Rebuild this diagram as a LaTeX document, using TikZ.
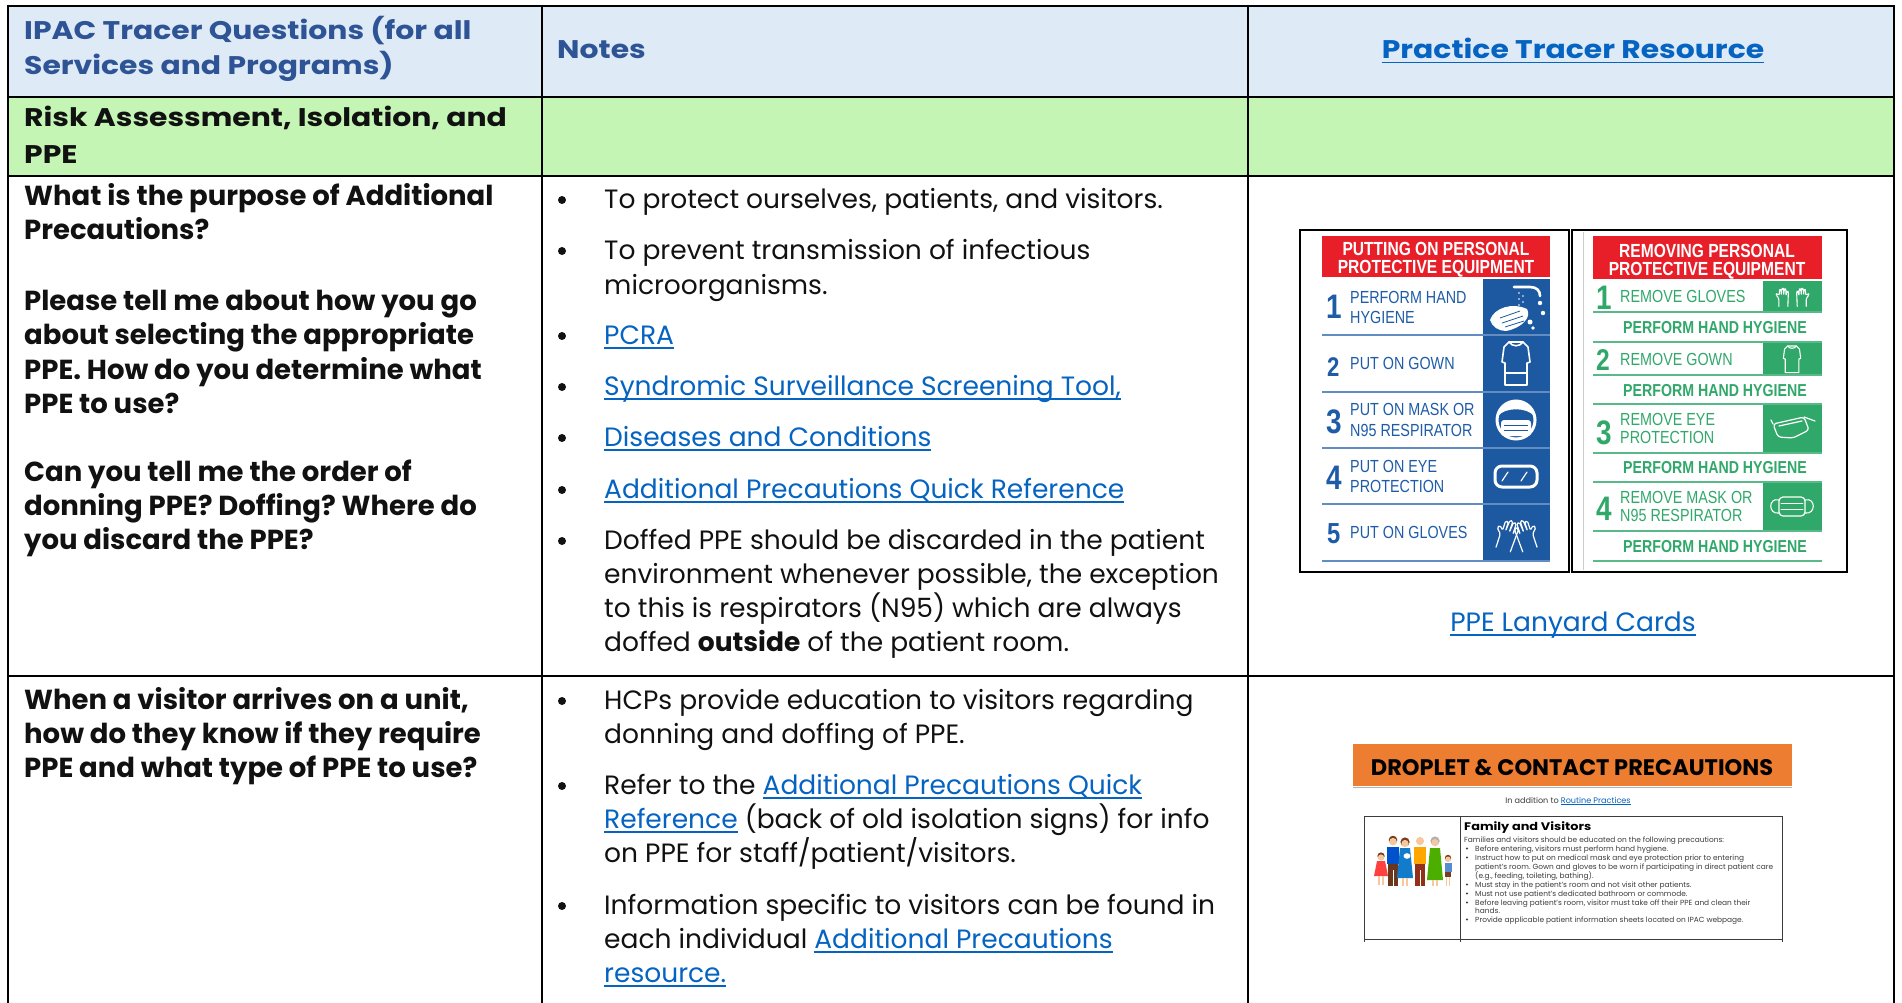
\documentclass[tikz,border=0pt]{standalone}
\usepackage{fontspec}
\setmainfont{Poppins}
\newfontfamily\hdfont[FakeStretch=1.17]{Poppins}
\newfontfamily\cardfont[FakeStretch=0.82]{Liberation Sans}
\newcommand\fsz[1]{\fontsize{#1}{#1}\selectfont}
\newlength\lkw
\definecolor{hdrblue}{RGB}{46,84,150}
\definecolor{hdrfill}{RGB}{222,234,246}
\definecolor{grnfill}{RGB}{197,245,181}
\definecolor{linkblue}{RGB}{5,99,193}
\definecolor{txt}{RGB}{17,17,17}
\definecolor{cblue}{RGB}{28,89,160}
\definecolor{ctblue}{RGB}{30,92,168}
\definecolor{cred}{RGB}{232,30,40}
\definecolor{cgreen}{RGB}{48,168,106}
\definecolor{corange}{RGB}{237,125,49}
\definecolor{dgray}{RGB}{60,60,60}
\definecolor{skin}{RGB}{247,200,160}
\definecolor{hairb}{RGB}{120,60,30}
\newcommand\lnk[1]{\settowidth\lkw{#1}\textcolor{linkblue}{\rlap{\rule[-0.17em]{\lkw}{0.065em}}#1}}
\frenchspacing
\begin{document}
\frenchspacing
\begin{tikzpicture}[x=1pt,y=-1pt,
 hdr/.style={font=\hdfont\bfseries\fsz{25.5}, text=hdrblue, anchor=base west, inner sep=0pt},
 sec/.style={font=\hdfont\bfseries\fsz{25.5}, text=txt, anchor=base west, inner sep=0pt},
 qt/.style={font=\bfseries\fsz{27.5}, text=txt, anchor=base west, inner sep=0pt},
 nt/.style={font=\fsz{26.5}, text=txt, anchor=base west, inner sep=0pt},
 blt/.style={circle, fill=txt, inner sep=0pt, minimum size=8pt},
 tline/.style={line width=2.6pt, black},
 crdhd/.style={font=\cardfont\bfseries\fsz{19}, text=white, anchor=base, inner sep=0pt},
 crdtx/.style={font=\cardfont\fsz{17.5}, anchor=base west, inner sep=0pt},
 crdnum/.style={font=\cardfont\bfseries\fsz{34}, anchor=base west, inner sep=0pt},
 phh/.style={font=\cardfont\bfseries\fsz{17.3}, text=cgreen, anchor=base, inner sep=0pt},
 icn/.style={white, line width=1.6pt, line join=round, line cap=round},
 smtx/.style={font=\fsz{7.4}, text=dgray, anchor=base west, inner sep=0pt},
 tbul/.style={circle, fill=dgray, inner sep=0pt, minimum size=2.2pt}]
\useasboundingbox (0,0) rectangle (1902,1003);
\fill[white] (0,0) rectangle (1902,1003);
% ---------- table fills ----------
\fill[hdrfill] (8,6) rectangle (1894,97);
\fill[grnfill] (8,97) rectangle (1894,176);
% ---------- table rules ----------
\draw[tline] (8,6) -- (1894,6);
\draw[tline] (8,97) -- (1894,97);
\draw[tline] (8,176) -- (1894,176);
\draw[tline] (8,676) -- (1894,676);
\draw[tline] (8,5) -- (8,1003);
\draw[tline] (542,5) -- (542,1003);
\draw[tline] (1248,5) -- (1248,1003);
\draw[tline] (1894,5) -- (1894,1003);
% ---------- header ----------
\node[hdr] (h1a) at (24,40) {IPAC Tracer Questions (for all};
\node[hdr] (h1b) at (24,75) {Services and Programs)};
\node[hdr] (h2) at (557,59) {Notes};
\node[hdr, anchor=base] (h3) at (1573,59) {\lnk{Practice Tracer Resource}};
\node[sec] (s1a) at (24,127) {Risk Assessment, Isolation, and};
\node[sec] (s1b) at (24,164) {PPE};
% ---------- row 3, column 1 ----------
\node[qt] (qa1) at (24,205) {What is the purpose of Additional};
\node[qt] (qa2) at (24,239) {Precautions?};
\node[qt] (qb1) at (24,310) {Please tell me about how you go};
\node[qt] (qb2) at (24,344) {about selecting the appropriate};
\node[qt] (qb3) at (24,379) {PPE. How do you determine what};
\node[qt] (qb4) at (24,413) {PPE to use?};
\node[qt] (qc1) at (24,481) {Can you tell me the order of};
\node[qt] (qc2) at (24,515) {donning PPE? Doffing? Where do};
\node[qt] (qc3) at (24,549) {you discard the PPE?};
% ---------- row 3, column 2 ----------
\node[blt] (b1) at (562,200) {};
\node[blt] (b2) at (562,251) {};
\node[blt] (b3) at (562,336) {};
\node[blt] (b4) at (562,387) {};
\node[blt] (b5) at (562,438) {};
\node[blt] (b6) at (562,490) {};
\node[blt] (b7) at (562,541) {};
\node[nt] (n1) at (604,208) {To protect ourselves, patients, and visitors.};
\node[nt] (n2a) at (604,259) {To prevent transmission of infectious};
\node[nt] (n2b) at (604,294) {microorganisms.};
\node[nt] (n3) at (604,344) {\lnk{PCRA}};
\node[nt] (n4) at (604,395) {\lnk{Syndromic Surveillance Screening Tool,}};
\node[nt] (n5) at (604,446) {\lnk{Diseases and Conditions}};
\node[nt] (n6) at (604,498) {\lnk{Additional Precautions Quick Reference}};
\node[nt] (n7a) at (604,549) {Doffed PPE should be discarded in the patient};
\node[nt] (n7b) at (604,583) {environment whenever possible, the exception};
\node[nt] (n7c) at (604,617) {to this is respirators (N95) which are always};
\node[nt] (n7d) at (604,651) {doffed \textbf{outside} of the patient room.};
% ---------- row 4 ----------
\node[qt] (qd1) at (24,709) {When a visitor arrives on a unit,};
\node[qt] (qd2) at (24,743) {how do they know if they require};
\node[qt] (qd3) at (24,777) {PPE and what type of PPE to use?};
\node[blt] (b8) at (562,701) {};
\node[blt] (b9) at (562,786) {};
\node[blt] (b10) at (562,906) {};
\node[nt] (m1a) at (604,709) {HCPs provide education to visitors regarding};
\node[nt] (m1b) at (604,743) {donning and doffing of PPE.};
\node[nt] (m2a) at (604,794) {Refer to the \lnk{Additional Precautions Quick}};
\node[nt] (m2b) at (604,828) {\lnk{Reference} (back of old isolation signs) for info};
\node[nt] (m2c) at (604,862) {on PPE for staff/patient/visitors.};
\node[nt] (m3a) at (604,914) {Information specific to visitors can be found in};
\node[nt] (m3b) at (604,948) {each individual \lnk{Additional Precautions}};
\node[nt] (m3c) at (604,982) {\lnk{resource.}};
% ---------- PPE cards ----------
\draw[line width=1.8pt] (1300,230) rectangle (1569,572);
\draw[line width=1.8pt] (1572,230) rectangle (1847,572);
\draw[gray!40, line width=0.8pt] (1583,232) -- (1583,570);
% left card
\fill[cred] (1322,236) rectangle (1550,277);
\node[crdhd] (lh1) at (1436,255) {PUTTING ON PERSONAL};
\node[crdhd] (lh2) at (1436,273) {PROTECTIVE EQUIPMENT};
\foreach \ya/\yb in {279/334,336/391,393/447,449/503,505/560}
  \fill[cblue] (1483,\ya) rectangle (1550,\yb);
\foreach \yy in {335,392,448,504,561}
  \draw[ctblue!70, line width=1.2pt] (1322,\yy) -- (1550,\yy);
\node[crdnum, text=ctblue] (ln1) at (1326,318) {1};
\node[crdnum, text=ctblue, font=\cardfont\bfseries\fsz{27}] (ln2) at (1327,376) {2};
\node[crdnum, text=ctblue] (ln3) at (1326,433) {3};
\node[crdnum, text=ctblue] (ln4) at (1326,489) {4};
\node[crdnum, text=ctblue, font=\cardfont\bfseries\fsz{29}] (ln5) at (1327,543) {5};
\node[crdtx, text=ctblue] (lt1a) at (1350,303) {PERFORM HAND};
\node[crdtx, text=ctblue] (lt1b) at (1350,323) {HYGIENE};
\node[crdtx, text=ctblue] (lt2) at (1350,369) {PUT ON GOWN};
\node[crdtx, text=ctblue] (lt3a) at (1350,415) {PUT ON MASK OR};
\node[crdtx, text=ctblue] (lt3b) at (1350,436) {N95 RESPIRATOR};
\node[crdtx, text=ctblue] (lt4a) at (1350,472) {PUT ON EYE};
\node[crdtx, text=ctblue] (lt4b) at (1350,492) {PROTECTION};
\node[crdtx, text=ctblue] (lt5) at (1350,538) {PUT ON GLOVES};
% icon: hand hygiene
\draw[icn, line width=2.6pt] (1514,287) -- (1530,287) .. controls (1537,287) and (1540,291) .. (1540,296);
\fill[white] (1540,303) circle (2.2);
\fill[white] (1543,313) circle (2.2);
\foreach \dx/\dy in {1519/293,1523/296,1519/299,1523/302,1519/305}
  \fill[white] (\dx,\dy) circle (0.8);
\fill[white] (1490,320) .. controls (1494,308) and (1512,302) .. (1527,309) .. controls (1532,317) and (1522,328) .. (1506,331) .. controls (1499,331) and (1492,327) .. cycle;
\draw[cblue, line width=0.8pt] (1500,318) -- (1520,311) (1502,323) -- (1523,316) (1505,327) -- (1524,321);
\fill[white] (1530,322) circle (2.5) (1533,328) circle (1.8);
% icon: gown
\begin{scope}[shift={(1516,363)}]
\draw[icn] (-7,-21) -- (7,-21) -- (12,-16) -- (14,-1) -- (11,0) -- (11,22) -- (-11,22) -- (-11,0) -- (-14,-1) -- (-12,-16) -- cycle;
\draw[icn] (-7,-21) .. controls (-4,-16) and (4,-16) .. (7,-21);
\draw[icn] (-11,10) -- (11,10);
\end{scope}
% icon: face with mask
\draw[white, line width=3pt] (1516,420) circle (19);
\fill[white] (1498,416) .. controls (1499,397) and (1533,397) .. (1534,416) .. controls (1527,407) and (1505,407) .. cycle;
\fill[white, rounded corners=3pt] (1501,420) rectangle (1531,436);
\draw[cblue, line width=0.9pt] (1504,425) -- (1528,425) (1504,430) -- (1528,430);
% icon: goggles
\draw[white, line width=3pt, rounded corners=7pt] (1495,466) rectangle (1537,487);
\draw[icn, line width=1.2pt] (1502,481) -- (1508,472) (1521,481) -- (1527,472);
% icon: gloves
\begin{scope}[shift={(1507,536)}, rotate=-18]
\draw[icn, line width=1.2pt, rounded corners=1.5pt] (-7,14) -- (-7,0) -- (-12,-5) -- (-10,-8) -- (-6,-4) -- (-6,-14) -- (-3,-14) -- (-3,-4) -- (-2,-16) -- (1,-16) -- (1,-4) -- (2,-15) -- (5,-15) -- (5,-3) -- (6,-11) -- (9,-11) -- (8,14);
\end{scope}
\begin{scope}[shift={(1526,536)}, rotate=18, xscale=-1]
\draw[icn, line width=1.2pt, rounded corners=1.5pt] (-7,14) -- (-7,0) -- (-12,-5) -- (-10,-8) -- (-6,-4) -- (-6,-14) -- (-3,-14) -- (-3,-4) -- (-2,-16) -- (1,-16) -- (1,-4) -- (2,-15) -- (5,-15) -- (5,-3) -- (6,-11) -- (9,-11) -- (8,14);
\end{scope}
% right card
\fill[cred] (1593,236) rectangle (1822,279);
\node[crdhd] (rh1) at (1707,257) {REMOVING PERSONAL};
\node[crdhd] (rh2) at (1707,275) {PROTECTIVE EQUIPMENT};
\foreach \ya/\yb in {281/311,343/374,405/452,483/530}
  \fill[cgreen] (1763,\ya) rectangle (1822,\yb);
\foreach \yy in {312,342,375,404,453,482,531,561}
  \draw[cgreen!80, line width=1.2pt] (1593,\yy) -- (1822,\yy);
\node[crdnum, text=cgreen] (rn1) at (1596,309) {1};
\node[crdnum, text=cgreen, font=\cardfont\bfseries\fsz{30}] (rn2) at (1596,370) {2};
\node[crdnum, text=cgreen] (rn3) at (1596,444) {3};
\node[crdnum, text=cgreen] (rn4) at (1596,520) {4};
\node[crdtx, text=cgreen] (rt1) at (1620,302) {REMOVE GLOVES};
\node[crdtx, text=cgreen] (rt2) at (1620,365) {REMOVE GOWN};
\node[crdtx, text=cgreen] (rt3a) at (1620,425) {REMOVE EYE};
\node[crdtx, text=cgreen] (rt3b) at (1620,443) {PROTECTION};
\node[crdtx, text=cgreen] (rt4a) at (1620,503) {REMOVE MASK OR};
\node[crdtx, text=cgreen] (rt4b) at (1620,521) {N95 RESPIRATOR};
\node[phh] (p1) at (1715,333) {PERFORM HAND HYGIENE};
\node[phh] (p2) at (1715,396) {PERFORM HAND HYGIENE};
\node[phh] (p3) at (1715,473) {PERFORM HAND HYGIENE};
\node[phh] (p4) at (1715,552) {PERFORM HAND HYGIENE};
% right icons
\begin{scope}[shift={(1783,298)}, scale=0.6]
\draw[icn, line width=1.1pt, rounded corners=1.5pt] (-7,14) -- (-7,0) -- (-12,-5) -- (-10,-8) -- (-6,-4) -- (-6,-14) -- (-3,-14) -- (-3,-4) -- (-2,-16) -- (1,-16) -- (1,-4) -- (2,-15) -- (5,-15) -- (5,-3) -- (6,-11) -- (9,-11) -- (8,14);
\end{scope}
\begin{scope}[shift={(1802,298)}, xscale=-0.6, yscale=0.6]
\draw[icn, line width=1.1pt, rounded corners=1.5pt] (-7,14) -- (-7,0) -- (-12,-5) -- (-10,-8) -- (-6,-4) -- (-6,-14) -- (-3,-14) -- (-3,-4) -- (-2,-16) -- (1,-16) -- (1,-4) -- (2,-15) -- (5,-15) -- (5,-3) -- (6,-11) -- (9,-11) -- (8,14);
\end{scope}
\begin{scope}[shift={(1792,359)}, scale=0.62]
\draw[icn, line width=1.1pt] (-7,-21) -- (7,-21) -- (12,-16) -- (14,-1) -- (11,0) -- (11,22) -- (-11,22) -- (-11,0) -- (-14,-1) -- (-12,-16) -- cycle;
\draw[icn, line width=1.1pt] (-7,-21) .. controls (-4,-16) and (4,-16) .. (7,-21);
\end{scope}
\draw[icn, line width=1.2pt, rounded corners=3pt] (1773,424) -- (1804,417) -- (1809,430) -- (1793,438) -- (1778,437) -- cycle;
\draw[icn, line width=1.2pt] (1804,417) -- (1815,421) (1773,424) -- (1771,420) (1779,426) -- (1802,421);
\draw[icn, line width=1.2pt, rounded corners=4pt] (1779,497) rectangle (1805,516);
\draw[icn, line width=0.8pt] (1781,503) -- (1803,503) (1781,509) -- (1803,509);
\draw[icn, line width=1.1pt] (1779,500) .. controls (1768,497) and (1768,515) .. (1779,513);
\draw[icn, line width=1.1pt] (1805,500) .. controls (1816,497) and (1816,515) .. (1805,513);
\node[nt, anchor=base] (lan) at (1573,631) {\lnk{PPE Lanyard Cards}};
% ---------- droplet & contact sheet ----------
\fill[corange] (1353,744) rectangle (1792,786);
\draw[gray!60, line width=1pt] (1353,787) -- (1792,787);
\node[font=\bfseries\fsz{22.5}, text=black, anchor=base, inner sep=0pt] (dc) at (1572,775) {DROPLET \& CONTACT PRECAUTIONS};
\node[font=\fsz{8.1}, text=dgray, anchor=base, inner sep=0pt] (ia) at (1568,803) {In addition to \lnk{Routine Practices}};
\draw[dgray, line width=1pt] (1364,942) -- (1364,816) -- (1782,816) -- (1782,942);
\draw[dgray, line width=1pt] (1460,816) -- (1460,942);
\draw[dgray, line width=1pt] (1364,939) -- (1782,939);
\node[font=\hdfont\bfseries\fsz{11}, text=black, anchor=base west, inner sep=0pt] (fv) at (1464,830) {Family and Visitors};
\node[smtx] (f0) at (1464,842) {Families and visitors should be educated on the following precautions:};
\node[tbul] (tb1) at (1467,848.5) {};
\node[tbul] (tb2) at (1467,857.5) {};
\node[tbul] (tb3) at (1467,884.5) {};
\node[tbul] (tb4) at (1467,893.5) {};
\node[tbul] (tb5) at (1467,902.5) {};
\node[tbul] (tb6) at (1467,919.5) {};
\node[smtx] (f1) at (1475,851) {Before entering, visitors must perform hand hygiene.};
\node[smtx] (f2a) at (1475,860) {Instruct how to put on medical mask and eye protection prior to entering};
\node[smtx] (f2b) at (1475,869) {patient's room. Gown and gloves to be worn if participating in direct patient care};
\node[smtx] (f2c) at (1475,878) {(e.g., feeding, toileting, bathing).};
\node[smtx] (f3) at (1475,887) {Must stay in the patient's room and not visit other patients.};
\node[smtx] (f4) at (1475,896) {Must not use patient's dedicated bathroom or commode.};
\node[smtx] (f5a) at (1475,905) {Before leaving patient's room, visitor must take off their PPE and clean their};
\node[smtx] (f5b) at (1475,913) {hands.};
\node[smtx] (f6) at (1475,922) {Provide applicable patient information sheets located on IPAC webpage.};
% family figures
% girl
\fill[hairb] (1381,856) circle (3.6);
\fill[skin] (1381,857.5) circle (3.1);
\fill[red!75!white] (1377,861) -- (1385,861) -- (1388,876) -- (1374,876) -- cycle;
\draw[skin, line width=1.5pt] (1379,876) -- (1379,885) (1383,876) -- (1383,885);
% man blue
\fill[hairb] (1393,840) circle (4.3);
\fill[skin] (1393,841.7) circle (3.8);
\fill[blue!60!cyan!80!black] (1387,847) rectangle (1399,864);
\fill[hairb!90!black] (1388,864) rectangle (1398,886);
\draw[white, line width=0.8pt] (1393,870) -- (1393,886);
% woman
\fill[hairb] (1405,842) circle (4.6);
\fill[skin] (1405,843.5) circle (3.6);
\fill[cyan!60!blue] (1400,848) -- (1410,848) -- (1413,878) -- (1397,878) -- cycle;
\fill[white] (1407,856) ellipse (3.5 and 2.8);
\draw[skin, line width=1.5pt] (1403,878) -- (1403,886) (1407,878) -- (1407,886);
% man yellow
\fill[skin] (1420,841) circle (4.1);
\fill[orange!70!yellow] (1414,847) rectangle (1426,864);
\fill[hairb!80!red] (1415,864) rectangle (1425,886);
\draw[white, line width=0.8pt] (1420,870) -- (1420,886);
% old woman
\fill[gray!60] (1435,841) circle (4.6);
\fill[skin] (1435,842.7) circle (3.6);
\fill[green!55!black!70!yellow] (1430,848) -- (1440,848) -- (1443,880) -- (1427,880) -- cycle;
\draw[skin, line width=1.5pt] (1433,880) -- (1433,886) (1437,880) -- (1437,886);
% boy
\fill[hairb] (1448,858) circle (3.2);
\fill[skin] (1448,859.3) circle (2.8);
\fill[cyan!50!blue!70] (1444.5,863) rectangle (1451.5,872);
\fill[hairb] (1445,872) rectangle (1451,877);
\draw[skin, line width=1.4pt] (1446.5,877) -- (1446.5,886) (1449.5,877) -- (1449.5,886);
\end{tikzpicture}
\end{document}
